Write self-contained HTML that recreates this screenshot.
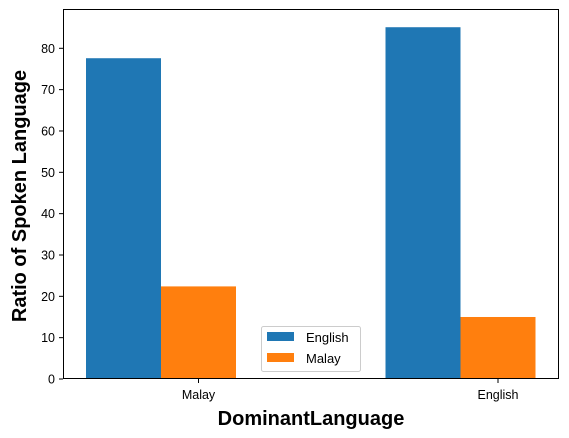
<!DOCTYPE html>
<html><head><meta charset="utf-8"><style>
body{margin:0;background:#fff}
svg{display:block;font-family:"Liberation Sans","DejaVu Sans",sans-serif}
</style></head><body>
<svg id="chart" width="569" height="438"></svg>
<script>
const categories=["Malay","English"];
const seriesNames=["English","Malay"];
const englishValues=[77.6,85.1];
const malayValues=[22.4,15.0];
const yTicks=[0,10,20,30,40,50,60,70,80];
const colors=["#1f77b4","#ff7f0e"];
const NS="http://www.w3.org/2000/svg";
const svg=document.getElementById("chart");
const L=63,R=559,T=9,B=379;
const y=v=>B-v*(B-48.3)/80;
const x=c=>198.5+c*299.5;
const bw=75;
function el(t,a,p){const e=document.createElementNS(NS,t);for(const k in a)e.setAttribute(k,a[k]);(p||svg).appendChild(e);return e;}
const series=[englishValues,malayValues];
series.forEach((vals,s)=>{vals.forEach((v,i)=>{
 const r=el("rect",{x:x(i)-1.5*bw+s*bw,y:y(v),width:bw,height:B-y(v),fill:colors[s]});
 
 
});});
const frame=el("rect",{x:L+0.5,y:T+0.5,width:R-L-1,height:B-T-1,fill:"none",stroke:"#000","stroke-width":1});


yTicks.forEach(t=>{
 el("line",{x1:L-4,x2:L,y1:y(t),y2:y(t),stroke:"#000"});
 const tx=el("text",{x:L-8,y:y(t)+4.5,"text-anchor":"end","font-size":"12.5"});
 tx.textContent=t;
 
 
});
categories.forEach((c,i)=>{
 el("line",{x1:x(i),x2:x(i),y1:B,y2:B+4,stroke:"#000"});
 const tx=el("text",{x:x(i),y:B+20,"text-anchor":"middle","font-size":"12.5"});
 tx.textContent=c;
 
 
});
</script>
<svg style="position:absolute;left:0;top:0" width="569" height="438">
<text x="311" y="425" text-anchor="middle" font-size="20" font-weight="bold" font-family="Liberation Sans, DejaVu Sans, sans-serif">DominantLanguage</text>
<text transform="translate(26,196) rotate(-90)" text-anchor="middle" font-size="20" font-weight="bold" font-family="Liberation Sans, DejaVu Sans, sans-serif">Ratio of Spoken Language</text>
<g font-family="Liberation Sans, DejaVu Sans, sans-serif" font-size="13">
<rect x="261.5" y="326.5" width="99" height="45" rx="2" fill="#fff" fill-opacity="0.8" stroke="#ccc"/>
<rect x="267" y="332" width="27" height="9" fill="#1f77b4"/>
<text x="306" y="342">English</text>
<rect x="267" y="353" width="27" height="9" fill="#ff7f0e"/>
<text x="306" y="363">Malay</text>
</g>
</svg>
</body></html>
